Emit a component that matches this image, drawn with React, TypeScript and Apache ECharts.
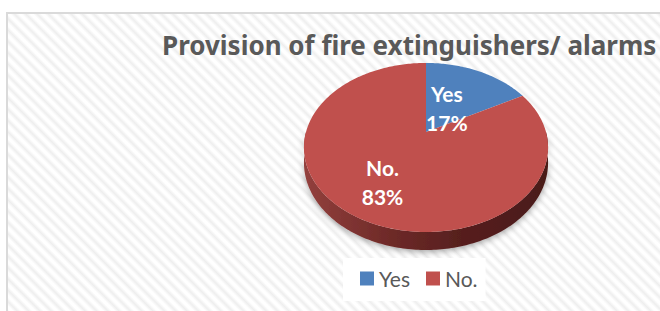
import React, { useEffect, useRef } from "react";
import * as echarts from "echarts";

const titleText = "Provision of fire extinguishers/ alarms";
const categories = ["Yes", "No."];
const values = [17, 83];
const topColors = ["#4f81bd", "#c0504d"];
const sideColors = [
  ["#3f6797", "#2c4a70"],
  ["#93403d", "#4a1a19"],
];

export default function App() {
  const ref = useRef<HTMLDivElement>(null);

  useEffect(() => {
    if (!ref.current) return;
    const chart = echarts.init(ref.current, null, { renderer: "svg" });
    const total = values.reduce((a, b) => a + b, 0);
    const starts = values.map((_, i) => values.slice(0, i).reduce((a, b) => a + b, 0));

    const CX = 426, CY = 132, RX = 120, RY = 81.7, K = 0.183, H = 14.7;
    const labelRadius = [0.36, 0.64];
    const proj = (deg: number, r = 1, dz = 0) => {
      const t = (deg * Math.PI) / 180;
      const s = Math.sin(t), c = Math.cos(t);
      const p = 1 / (1 + K * c * r);
      return [CX + RX * r * s * p, CY - RY * r * c * p + dz * p];
    };
    const arc = (a: number, b: number, r: number, dz: number) => {
      const pts: number[][] = [];
      const n = Math.max(2, Math.ceil(Math.abs(b - a)));
      for (let i = 0; i <= n; i++) pts.push(proj(a + ((b - a) * i) / n, r, dz));
      return pts;
    };

    const series = categories.map((name, i) => ({
      type: "custom",
      name,
      coordinateSystem: "none",
      silent: true,
      data: [values[i]],
      itemStyle: { color: topColors[i] },
      renderItem: (params: any, api: any) => {
        const v = api.value(0);
        const a = (starts[i] / total) * 360;
        const b = ((starts[i] + v) / total) * 360;
        const children: any[] = [];
        const sa = Math.max(a, 90), sb = Math.min(b, 270);
        if (sb > sa) {
          children.push({
            type: "polygon",
            z2: 1,
            shape: { points: [...arc(sa, sb, 1, 0), ...arc(sb, sa, 1, H)] },
            style: {
              fill: new echarts.graphic.LinearGradient(0, 0, 1, 0, [
                { offset: 0, color: sideColors[i][0] },
                { offset: 0.35, color: "#6e2a28" },
                { offset: 0.65, color: "#561f1e" },
                { offset: 1, color: sideColors[i][1] },
              ]),
              shadowBlur: 6,
              shadowColor: "rgba(0,0,0,0.35)",
              shadowOffsetY: 2,
            },
          });
        }
        children.push({
          type: "polygon",
          z2: 5,
          shape: { points: [[CX, CY], ...arc(a, b, 1, 0)] },
          style: { fill: topColors[i] },
        });
        const mid = (a + b) / 2;
        const lp = proj(mid, labelRadius[i], 0);
        const pct = Math.round((v / total) * 100) + "%";
        children.push({
          type: "text",
          z2: 10,
          x: lp[0],
          y: lp[1],
          style: {
            text: name + "\n" + pct,
            fill: "#ffffff",
            fontFamily: "Lato",
            fontWeight: "bold",
            fontSize: 21,
            lineHeight: 29,
            textAlign: "center",
            textVerticalAlign: "middle",
            align: "center",
            verticalAlign: "middle",
          },
        });
        return { type: "group", children };
      },
    }));

    chart.setOption({
      animation: false,
      title: {
        text: titleText,
        left: 162,
        top: 30,
        padding: 0,
        textStyle: {
          fontFamily: "Noto Sans",
          fontWeight: "bold",
          fontSize: 26,
          lineHeight: 30,
          color: "#595959",
        },
      },
      legend: {
        data: categories,
        left: 343,
        top: 258,
        padding: [10, 8, 12, 17],
        backgroundColor: "#ffffff",
        icon: "rect",
        itemWidth: 14,
        itemHeight: 14,
        itemGap: 16,
        selectedMode: false,
        textStyle: {
          fontFamily: "Lato",
          fontSize: 21,
          lineHeight: 20,
          color: "#595959",
        },
      },
      series,
    } as any);

    return () => chart.dispose();
  }, []);

  return (
    <div
      style={{
        position: "absolute",
        left: 0,
        top: 0,
        width: 660,
        height: 311,
        overflow: "hidden",
        background: "#ffffff",
      }}
    >
      <div
        style={{
          position: "absolute",
          left: 6,
          top: 12,
          width: 700,
          height: 340,
          border: "2px solid #dadada",
          background:
            "repeating-linear-gradient(45deg, #ffffff 0px, #ffffff 2px, #eeeeee 5px, #ffffff 8px)",
        }}
      />
      <div ref={ref} style={{ position: "absolute", left: 0, top: 0, width: 660, height: 311 }} />
    </div>
  );
}
